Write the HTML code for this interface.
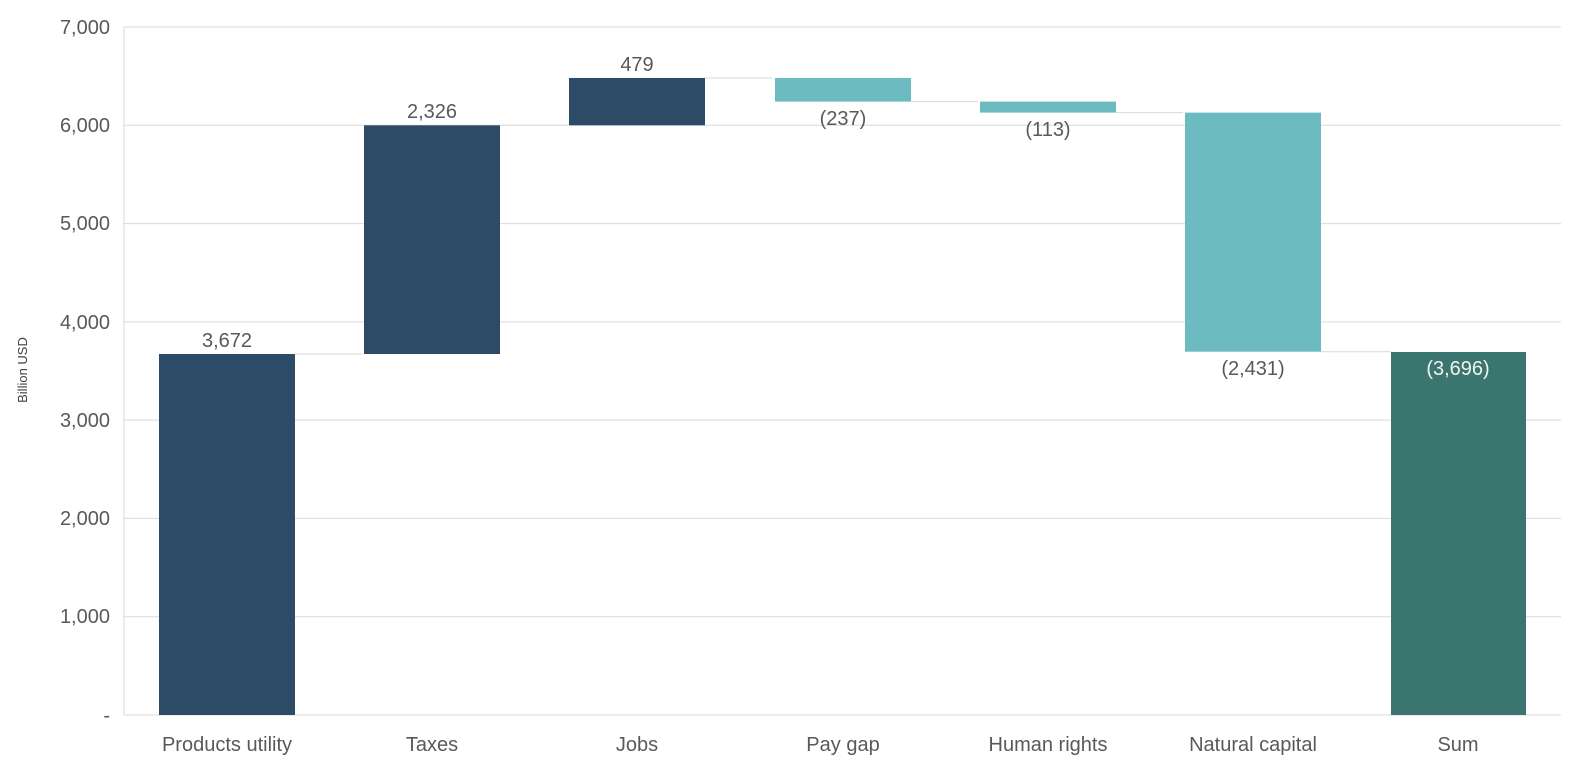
<!DOCTYPE html>
<html><head><meta charset="utf-8"><style>body{margin:0;background:#fff}</style></head><body>
<svg width="1575" height="772" xmlns="http://www.w3.org/2000/svg" font-family="Liberation Sans, sans-serif">
<g stroke="#d9d9d9" stroke-width="1">
<line x1="124" y1="27" x2="1561" y2="27"/>
<line x1="124" y1="125.3" x2="1561" y2="125.3"/>
<line x1="124" y1="223.6" x2="1561" y2="223.6"/>
<line x1="124" y1="321.9" x2="1561" y2="321.9"/>
<line x1="124" y1="420.1" x2="1561" y2="420.1"/>
<line x1="124" y1="518.4" x2="1561" y2="518.4"/>
<line x1="124" y1="616.7" x2="1561" y2="616.7"/>
<line x1="124" y1="715" x2="1561" y2="715"/>
<line x1="124" y1="27" x2="124" y2="715"/>
<line x1="295" y1="354" x2="362" y2="354"/>
<line x1="500" y1="125.3" x2="567" y2="125.3"/>
<line x1="705" y1="78" x2="772" y2="78"/>
<line x1="911" y1="101.6" x2="978" y2="101.6"/>
<line x1="1116" y1="112.6" x2="1183" y2="112.6"/>
<line x1="1321" y1="351.7" x2="1391" y2="351.7"/>
</g>
<g fill="#595959" font-size="20" text-anchor="end">
<text x="110" y="34">7,000</text><text x="110" y="132">6,000</text><text x="110" y="230">5,000</text>
<text x="110" y="329">4,000</text><text x="110" y="427">3,000</text><text x="110" y="525">2,000</text>
<text x="110" y="623">1,000</text><text x="110" y="722">-</text>
</g>
<text transform="translate(27,370) rotate(-90)" font-size="13" fill="#404040" text-anchor="middle">Billion USD</text>
<rect x="159" y="354" width="136" height="361" fill="#2D4B67"/>
<rect x="364" y="125.3" width="136" height="228.7" fill="#2D4B67"/>
<rect x="569" y="78" width="136" height="47.3" fill="#2D4B67"/>
<rect x="775" y="78" width="136" height="23.6" fill="#6BBBC1"/>
<rect x="980" y="101.6" width="136" height="11" fill="#6BBBC1"/>
<rect x="1185" y="112.6" width="136" height="239.1" fill="#6BBBC1"/>
<rect x="1391" y="352" width="135" height="363" fill="#3A766F"/>
<g fill="#595959" font-size="20" text-anchor="middle">
<text x="227" y="347">3,672</text>
<text x="432" y="118">2,326</text>
<text x="637" y="71">479</text>
<text x="843" y="125">(237)</text>
<text x="1048" y="136">(113)</text>
<text x="1253" y="375">(2,431)</text>
<text x="1458" y="375" fill="#f2f2f2">(3,696)</text>
<text x="227" y="751">Products utility</text>
<text x="432" y="751">Taxes</text>
<text x="637" y="751">Jobs</text>
<text x="843" y="751">Pay gap</text>
<text x="1048" y="751">Human rights</text>
<text x="1253" y="751">Natural capital</text>
<text x="1458" y="751">Sum</text>
</g>
</svg>
</body></html>
